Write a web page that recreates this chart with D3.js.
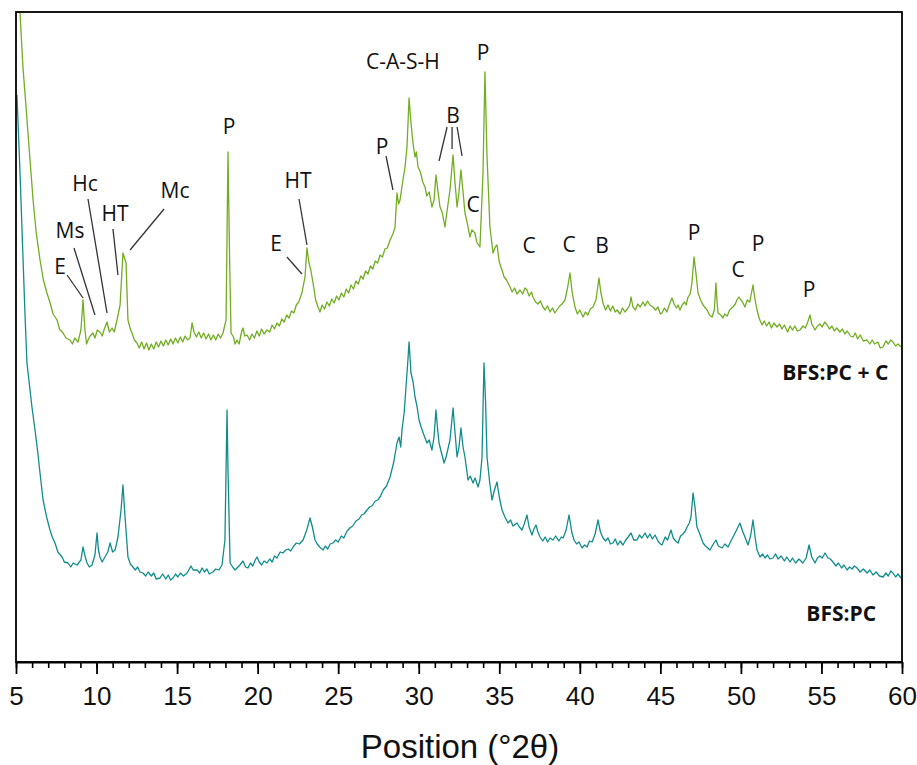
<!DOCTYPE html>
<html>
<head>
<meta charset="utf-8">
<script src="https://cdn.jsdelivr.net/npm/d3@7"></script>
<style>
  body { margin: 0; background: #fff; }
  svg { display: block; }
</style>
</head>
<body>
<script>
// XRD patterns, [position 2theta, intensity a.u.]
var bfsPcC = [
  [5.05,650],[5.25,649],[5.43,595],[5.6,560],[5.87,502],[6.06,462],[6.25,430],[6.49,402],[6.7,382],
  [6.92,369],[7.1,360],[7.3,348],[7.55,342],[7.7,333],[7.92,329],[8.1,324],[8.35,322],[8.5,318],
  [8.65,324],[8.85,320],[9.03,332],[9.16,362],[9.28,332],[9.38,318],[9.47,322],[9.6,326],[9.78,329],
  [9.9,324],[10.05,332],[10.21,330],[10.35,326],[10.46,332],[10.65,340],[10.8,330],[10.96,334],
  [11.1,330],[11.27,342],[11.46,357],[11.64,409],[11.83,399],[11.95,342],[12.08,334],[12.2,329],
  [12.35,322],[12.51,319],[12.65,314],[12.8,320],[12.95,313],[13.1,319],[13.25,312],[13.4,318],
  [13.55,313],[13.7,320],[13.85,315],[14.0,321],[14.15,316],[14.3,322],[14.45,317],[14.6,323],
  [14.75,318],[14.9,324],[15.05,319],[15.2,325],[15.35,320],[15.5,326],[15.65,322],[15.8,324],
  [15.93,339],[16.05,330],[16.2,325],[16.35,330],[16.5,324],[16.65,329],[16.8,323],[16.95,328],
  [17.1,322],[17.25,327],[17.4,322],[17.55,328],[17.7,324],[17.85,329],[18.04,342],[18.16,510],
  [18.26,402],[18.35,329],[18.5,325],[18.6,318],[18.72,322],[18.85,318],[19.0,330],[19.09,334],
  [19.2,326],[19.34,327],[19.5,322],[19.65,328],[19.8,324],[19.95,331],[20.1,326],[20.25,333],
  [20.4,328],[20.58,332],[20.75,330],[20.9,337],[21.05,333],[21.2,339],[21.35,336],[21.5,343],
  [21.65,340],[21.8,347],[21.95,344],[22.1,351],[22.25,349],[22.4,357],[22.55,360],[22.75,369],
  [22.94,385],[23.06,414],[23.19,399],[23.3,392],[23.44,379],[23.6,362],[23.75,355],[23.87,350],
  [24.0,357],[24.15,353],[24.3,360],[24.45,356],[24.6,363],[24.75,359],[24.9,366],[25.05,362],
  [25.2,369],[25.35,365],[25.5,373],[25.65,369],[25.8,377],[25.95,373],[26.1,381],[26.25,378],
  [26.4,386],[26.55,383],[26.7,391],[26.85,388],[27.0,396],[27.15,393],[27.3,401],[27.45,399],
  [27.6,407],[27.75,405],[27.9,413],[28.05,414],[28.22,422],[28.4,428],[28.53,435],[28.65,469],
  [28.75,458],[28.84,462],[29.02,482],[29.15,495],[29.27,515],[29.4,564],[29.52,539],[29.65,518],
  [29.77,505],[29.85,510],[29.96,495],[30.1,490],[30.25,480],[30.39,475],[30.5,466],[30.65,470],
  [30.82,455],[30.95,462],[31.07,487],[31.2,470],[31.32,455],[31.45,450],[31.63,435],[31.75,450],
  [31.94,472],[32.13,507],[32.25,480],[32.38,455],[32.5,470],[32.62,492],[32.75,470],[32.87,449],
  [33.0,440],[33.18,425],[33.3,432],[33.49,429],[33.6,420],[33.8,415],[33.99,489],[34.11,590],
  [34.24,505],[34.42,435],[34.61,409],[34.75,415],[34.86,417],[35.0,400],[35.17,392],[35.3,385],
  [35.45,382],[35.67,375],[35.8,370],[35.95,374],[36.1,368],[36.29,372],[36.45,368],[36.6,374],
  [36.72,372],[36.85,366],[37.0,370],[37.09,365],[37.25,360],[37.4,358],[37.55,361],[37.71,355],
  [37.85,352],[38.0,356],[38.15,350],[38.3,354],[38.45,349],[38.58,352],[38.75,356],[38.9,358],
  [39.08,362],[39.25,375],[39.39,389],[39.52,370],[39.7,355],[39.85,348],[40.0,352],[40.2,345],
  [40.35,350],[40.5,347],[40.65,353],[40.82,355],[41.0,362],[41.19,384],[41.3,370],[41.44,359],
  [41.6,352],[41.75,357],[41.9,351],[42.05,356],[42.2,350],[42.31,352],[42.5,348],[42.65,354],
  [42.8,350],[42.95,353],[43.1,357],[43.18,365],[43.3,355],[43.45,352],[43.6,358],[43.75,355],
  [43.92,360],[44.05,356],[44.2,361],[44.35,357],[44.54,355],[44.7,352],[44.85,355],[45.0,348],
  [45.1,349],[45.25,354],[45.4,350],[45.55,357],[45.72,364],[45.85,358],[46.0,354],[46.1,357],
  [46.22,352],[46.35,357],[46.5,360],[46.6,357],[46.72,365],[46.85,368],[46.96,379],[47.09,405],
  [47.2,390],[47.34,369],[47.5,362],[47.65,357],[47.8,354],[47.9,352],[48.05,347],[48.21,345],
  [48.35,352],[48.45,379],[48.52,360],[48.58,349],[48.75,347],[48.89,344],[49.0,348],[49.15,346],
  [49.3,352],[49.51,355],[49.65,358],[49.75,362],[49.88,365],[50.0,362],[50.1,360],[50.25,355],
  [50.4,362],[50.55,360],[50.75,377],[50.85,365],[51.0,352],[51.15,343],[51.31,337],[51.45,341],
  [51.6,336],[51.75,340],[51.9,334],[52.05,339],[52.24,335],[52.4,338],[52.55,333],[52.7,337],
  [52.9,330],[53.05,336],[53.2,332],[53.35,336],[53.5,331],[53.67,332],[53.85,336],[54.0,334],
  [54.15,340],[54.29,347],[54.4,338],[54.6,332],[54.75,336],[54.9,338],[55.05,335],[55.2,340],
  [55.35,337],[55.5,333],[55.65,336],[55.8,331],[55.95,334],[56.15,330],[56.3,333],[56.45,328],
  [56.6,331],[56.8,326],[56.96,325],[57.1,329],[57.25,323],[57.4,327],[57.6,321],[57.83,322],
  [58.0,318],[58.15,322],[58.3,318],[58.5,320],[58.65,314],[58.82,315],[59.0,321],[59.15,318],
  [59.3,322],[59.44,320],[59.6,316],[59.75,318],[59.94,315]
];

var bfsPc = [
  [5.06,567],[5.15,530],[5.25,489],[5.4,420],[5.56,347],[5.68,299],[5.85,275],[5.99,255],[6.18,232],
  [6.35,210],[6.49,189],[6.68,162],[6.9,145],[7.11,132],[7.25,125],[7.42,119],[7.6,110],[7.86,105],
  [8.0,100],[8.23,99],[8.4,95],[8.55,99],[8.79,97],[9.03,102],[9.16,115],[9.3,105],[9.41,99],
  [9.55,95],[9.72,97],[9.9,107],[10.03,129],[10.12,112],[10.21,105],[10.35,100],[10.52,105],
  [10.7,110],[10.84,119],[11.0,110],[11.15,112],[11.33,125],[11.52,152],[11.64,177],[11.77,145],
  [11.95,105],[12.1,98],[12.26,95],[12.4,92],[12.55,95],[12.7,90],[12.88,89],[13.05,86],[13.2,90],
  [13.4,86],[13.55,89],[13.7,83],[13.94,84],[14.1,88],[14.3,83],[14.45,87],[14.6,82],[14.75,84],
  [14.9,88],[15.05,85],[15.2,89],[15.4,86],[15.62,89],[15.86,96],[16.0,92],[16.24,92],[16.4,89],
  [16.55,94],[16.7,90],[16.85,93],[17.0,88],[17.23,90],[17.4,93],[17.6,92],[17.79,97],[17.97,122],
  [18.1,252],[18.16,192],[18.29,99],[18.45,95],[18.6,92],[18.72,94],[18.9,97],[19.09,101],[19.25,95],
  [19.4,94],[19.55,99],[19.7,96],[19.85,102],[19.96,105],[20.1,100],[20.25,97],[20.4,101],[20.58,99],
  [20.75,103],[20.9,100],[21.05,106],[21.2,104],[21.4,110],[21.57,109],[21.75,112],[21.9,113],
  [22.05,111],[22.2,115],[22.4,119],[22.6,118],[22.82,122],[23.05,132],[23.25,144],[23.4,135],
  [23.56,122],[23.7,118],[23.85,115],[24.06,112],[24.2,116],[24.35,113],[24.5,118],[24.68,119],
  [24.85,122],[25.0,120],[25.2,126],[25.35,124],[25.55,131],[25.73,134],[25.9,136],[26.1,141],
  [26.3,143],[26.45,147],[26.6,148],[26.79,152],[26.95,155],[27.1,156],[27.3,161],[27.45,162],
  [27.6,165],[27.8,172],[28.0,176],[28.22,185],[28.45,200],[28.65,219],[28.78,225],[28.88,215],
  [28.96,232],[29.1,250],[29.21,275],[29.32,300],[29.4,320],[29.52,289],[29.65,280],[29.77,265],
  [29.9,255],[30.02,242],[30.15,235],[30.3,228],[30.51,219],[30.65,222],[30.82,212],[30.95,225],
  [31.07,252],[31.16,235],[31.26,219],[31.4,210],[31.57,199],[31.7,205],[31.94,222],[32.13,254],
  [32.25,230],[32.38,205],[32.5,215],[32.62,234],[32.75,215],[32.87,205],[33.06,182],[33.2,186],
  [33.37,179],[33.5,184],[33.68,175],[33.8,182],[33.93,205],[34.05,299],[34.15,260],[34.24,205],
  [34.4,180],[34.55,162],[34.7,172],[34.86,180],[35.0,165],[35.17,152],[35.35,145],[35.54,139],
  [35.7,142],[35.85,136],[36.1,139],[36.25,135],[36.41,132],[36.55,138],[36.72,147],[36.85,135],
  [37.03,127],[37.15,133],[37.28,137],[37.4,130],[37.53,125],[37.7,121],[37.85,125],[38.0,120],
  [38.15,124],[38.34,122],[38.5,126],[38.7,121],[38.85,125],[38.96,124],[39.15,132],[39.33,147],
  [39.5,130],[39.64,122],[39.8,118],[39.95,120],[40.14,114],[40.3,117],[40.45,115],[40.6,121],
  [40.76,120],[40.95,128],[41.13,142],[41.28,130],[41.44,124],[41.6,121],[41.75,124],[41.9,118],
  [42.06,119],[42.2,123],[42.35,117],[42.5,121],[42.68,117],[42.85,122],[43.0,125],[43.18,129],
  [43.35,122],[43.55,122],[43.7,127],[43.85,124],[44.05,129],[44.2,124],[44.35,128],[44.5,123],
  [44.67,127],[44.85,121],[45.0,118],[45.1,117],[45.3,125],[45.45,122],[45.66,132],[45.8,124],
  [45.95,121],[46.1,119],[46.25,126],[46.4,128],[46.55,131],[46.66,135],[46.8,139],[46.9,145],
  [47.03,169],[47.15,155],[47.27,135],[47.45,128],[47.65,119],[47.8,116],[47.95,114],[48.08,112],
  [48.25,117],[48.45,122],[48.6,116],[48.83,114],[49.0,118],[49.2,115],[49.35,120],[49.51,125],
  [49.7,131],[49.94,139],[50.1,131],[50.25,125],[50.44,117],[50.6,126],[50.75,142],[50.88,125],
  [51.0,112],[51.19,105],[51.35,108],[51.5,104],[51.65,107],[51.8,103],[51.99,104],[52.15,108],
  [52.3,103],[52.5,106],[52.7,101],[52.85,105],[53.05,100],[53.2,104],[53.4,99],[53.6,103],
  [53.85,99],[54.05,104],[54.23,117],[54.4,105],[54.6,99],[54.75,104],[54.9,106],[55.05,104],
  [55.22,109],[55.4,104],[55.55,103],[55.72,100],[55.9,96],[56.05,99],[56.25,94],[56.4,97],
  [56.59,92],[56.75,95],[56.9,93],[57.05,96],[57.21,94],[57.4,90],[57.6,93],[57.83,89],[58.0,92],
  [58.2,87],[58.4,90],[58.6,86],[58.82,85],[59.0,89],[59.15,86],[59.3,91],[59.44,89],[59.6,85],
  [59.75,88],[59.94,84]
];

// phase labels: text, 2theta, intensity of baseline
var peakLabels = [
  ["E",7.73,388],["Ms",8.35,424],["Hc",9.28,471],["HT",11.15,441],["Mc",14.87,464],
  ["P",18.22,528],["E",21.14,411],["HT",22.51,474],["C-A-S-H",29.02,593],["P",27.72,508],
  ["B",32.13,539],["C",33.37,450],["P",33.99,602],["C",36.85,409],["C",39.33,410],
  ["B",41.38,409],["P",47.09,422],["C",49.82,385],["P",51.06,411],["P",54.23,365]
];

// leader lines: x1, y1, x2, y2 in data units
var leaders = [
  [8.17,387,9.16,364],[8.6,414,9.9,347],[9.47,463,10.65,349],[11.02,433,11.33,387],
  [14.19,453,12.08,412],[21.82,405,22.75,388],[22.57,463,23.06,417],[27.97,506,28.4,472],
  [31.76,535,31.26,501],[32.07,535,32.07,513],[32.38,535,32.69,506]
];

var seriesNames = ["BFS:PC + C","BFS:PC"];
var seriesLabelPos = [[59.15,282],[58.39,41]];
var seriesColors = ["#72ad22","#118c8c"];

var xTicks = [5,10,15,20,25,30,35,40,45,50,55,60];

var width = 917, height = 765;
var plotL = 16, plotR = 902, plotT = 12, plotB = 662;

var svg = d3.select("body").append("svg")
    .attr("width", width)
    .attr("height", height);

var x = d3.scaleLinear().domain([5,60]).range([plotL,plotR]);
var y = d3.scaleLinear().domain([0,650]).range([plotB,plotT]);

var line = d3.line()
    .x(function(d){ return x(d[0]); })
    .y(function(d){ return y(d[1]); });

// patterns
[bfsPcC, bfsPc].forEach(function(s,i){
    svg.append("path")
        .datum(s)
        .attr("d", line)
        .attr("fill","none")
        .attr("stroke", seriesColors[i])
        .attr("stroke-width", 1.3)
        .attr("stroke-linejoin","round");
});

// frame
svg.append("rect")
    .attr("x", plotL).attr("y", plotT)
    .attr("width", plotR-plotL).attr("height", plotB-plotT)
    .attr("fill","none")
    .attr("stroke","#000")
    .attr("stroke-width",1.8);

// minor ticks
svg.append("g")
    .attr("transform","translate(0,"+plotB+")")
    .call(d3.axisBottom(x).ticks(55).tickSize(6).tickFormat(""))
    .call(function(g){
        g.select(".domain").remove();
        g.selectAll("line").attr("stroke-width",1.6);
    });

// major ticks + labels
svg.append("g")
    .attr("transform","translate(0,"+plotB+")")
    .call(d3.axisBottom(x).tickValues(xTicks).tickSize(12).tickSizeOuter(0))
    .call(function(g){
        g.select(".domain").attr("stroke-width",2.2);
        g.selectAll("line").attr("stroke-width",1.8);
        g.selectAll("text")
            .attr("y",43).attr("dy",0)
            .attr("fill","#111")
            .style("font-family","'Liberation Sans', Arial, sans-serif")
            .style("font-size","26px");
    });

// axis title
svg.append("text")
    .attr("x",460)
    .attr("y",758)
    .attr("text-anchor","middle")
    .style("font-family","'Liberation Sans', Arial, sans-serif")
    .style("font-size","33px")
    .attr("fill","#111")
    .text("Position (\u00b02\u03b8)");

// leader lines
svg.selectAll(".leader")
    .data(leaders)
    .enter().append("line")
    .attr("class","leader")
    .attr("x1",function(d){ return x(d[0]); })
    .attr("y1",function(d){ return y(d[1]); })
    .attr("x2",function(d){ return x(d[2]); })
    .attr("y2",function(d){ return y(d[3]); })
    .attr("stroke","#333")
    .attr("stroke-width",1.3);

// phase labels
svg.selectAll(".peak")
    .data(peakLabels)
    .enter().append("text")
    .attr("class","peak")
    .attr("x",function(d){ return x(d[1]); })
    .attr("y",function(d){ return y(d[2]); })
    .attr("text-anchor","middle")
    .style("font-family","'Open Sans', sans-serif")
    .style("font-size","21px")
    .attr("fill","#111")
    .text(function(d){ return d[0]; });

// series names
svg.selectAll(".series")
    .data(seriesNames)
    .enter().append("text")
    .attr("class","series")
    .attr("x",function(d,i){ return x(seriesLabelPos[i][0]); })
    .attr("y",function(d,i){ return y(seriesLabelPos[i][1]); })
    .attr("text-anchor","end")
    .style("font-family","'Open Sans', sans-serif")
    .style("font-size","21px")
    .style("font-weight","bold")
    .attr("fill","#111")
    .text(function(d){ return d; });
</script>
</body>
</html>
